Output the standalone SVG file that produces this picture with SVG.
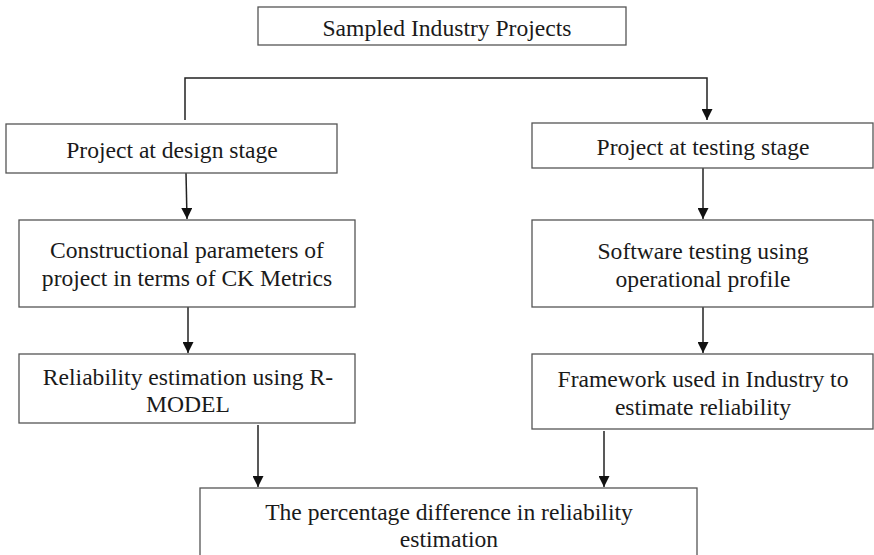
<svg xmlns="http://www.w3.org/2000/svg" width="874" height="555" viewBox="0 0 874 555">
  <style>
    .box { fill: #ffffff; stroke: #555555; stroke-width: 1.3; }
    .lbl { font-family: "Liberation Serif", "Times New Roman", "DejaVu Serif", serif; font-size: 23.6px; fill: #1a1a1a; text-anchor: middle; }
    .wire { fill: none; stroke: #222222; stroke-width: 1.5; }
  </style>
  <defs>
    <marker id="arrow" viewBox="0 0 10 10" refX="10" refY="5" markerWidth="11" markerHeight="11" markerUnits="userSpaceOnUse" orient="auto">
      <path d="M0,0 L10,5 L0,10 Z" fill="#111111"/>
    </marker>
  </defs>
  <rect width="874" height="555" fill="#ffffff"/>

  <g id="connectors">
    <polyline class="wire" points="185,120 185,78 707,78 707,120" marker-end="url(#arrow)"/>
    <line class="wire" x1="186" y1="173" x2="187" y2="219" marker-end="url(#arrow)"/>
    <line class="wire" x1="188" y1="307" x2="188" y2="353" marker-end="url(#arrow)"/>
    <line class="wire" x1="703" y1="168" x2="703" y2="219" marker-end="url(#arrow)"/>
    <line class="wire" x1="703" y1="307" x2="703" y2="353" marker-end="url(#arrow)"/>
    <line class="wire" x1="258" y1="425" x2="258" y2="487" marker-end="url(#arrow)"/>
    <line class="wire" x1="604" y1="431" x2="604" y2="487" marker-end="url(#arrow)"/>
  </g>

  <g id="sampled-projects">
    <rect class="box" x="258" y="7" width="368" height="38"/>
    <text class="lbl" x="447" y="36">Sampled Industry Projects</text>
  </g>

  <g id="design-stage">
    <rect class="box" x="6" y="124" width="331" height="49"/>
    <text class="lbl" x="172" y="158">Project at design stage</text>
  </g>

  <g id="ck-metrics">
    <rect class="box" x="19" y="220" width="336" height="87"/>
    <text class="lbl" x="187" y="258">Constructional parameters of</text>
    <text class="lbl" x="187" y="286">project in terms of CK Metrics</text>
  </g>

  <g id="r-model">
    <rect class="box" x="19" y="354" width="336" height="69"/>
    <text class="lbl" x="188" y="385">Reliability estimation using R-</text>
    <text class="lbl" x="188" y="412">MODEL</text>
  </g>

  <g id="testing-stage">
    <rect class="box" x="532" y="123" width="341" height="45"/>
    <text class="lbl" x="703" y="155">Project at testing stage</text>
  </g>

  <g id="operational-profile">
    <rect class="box" x="532" y="220" width="341" height="87"/>
    <text class="lbl" x="703" y="259">Software testing using</text>
    <text class="lbl" x="703" y="287">operational profile</text>
  </g>

  <g id="industry-framework">
    <rect class="box" x="532" y="354" width="341" height="75"/>
    <text class="lbl" x="703" y="387">Framework used in Industry to</text>
    <text class="lbl" x="703" y="415">estimate reliability</text>
  </g>

  <g id="percentage-difference">
    <rect class="box" x="200" y="488" width="497" height="80"/>
    <text class="lbl" x="449" y="520">The percentage difference in reliability</text>
    <text class="lbl" x="449" y="547">estimation</text>
  </g>
</svg>
